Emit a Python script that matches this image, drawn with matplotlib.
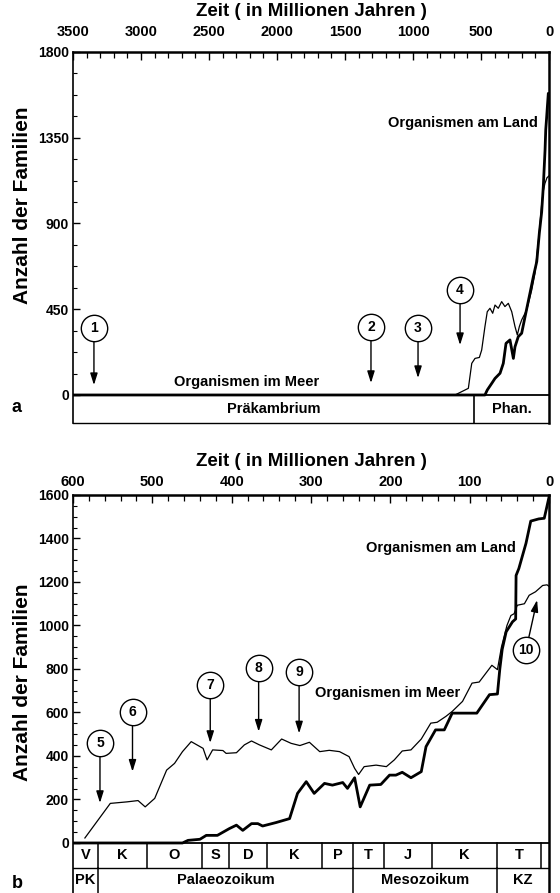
import matplotlib
matplotlib.use('Agg')
import matplotlib.pyplot as plt
from matplotlib.ticker import MultipleLocator, FixedLocator
import numpy as np

plt.rcParams['font.family'] = ['Liberation Sans', 'DejaVu Sans']
plt.rcParams['font.weight'] = 'bold'

# ---------------- data: panel a ----------------
mar_a_t = [3500, 691, 593, 568, 544, 512, 495, 471, 454, 434, 414, 397, 373, 348, 324, 299,
           274, 250, 233, 218, 201, 164, 127, 103, 90, 71, 54, 42, 30, 15, 0]
mar_a_v = [0, 0, 35, 166, 192, 197, 236, 359, 437, 455, 429, 472, 455, 490, 464, 481,
           437, 359, 315, 359, 394, 446, 551, 639, 726, 860, 1000, 1070, 1110, 1140, 1150]
land_a_t = [3500, 471, 454, 421, 397, 360, 336, 316, 287, 262, 250, 226, 201, 176, 140, 115,
            90, 71, 54, 42, 29, 24, 17, 12, 5, 0]
land_a_v = [0, 0, 26, 61, 87, 114, 166, 271, 289, 192, 253, 306, 324, 411, 534, 621,
            700, 850, 960, 1093, 1286, 1391, 1460, 1513, 1583, 1560]

# ---------------- data: panel b ----------------
mar_b_t = [585, 553, 532, 518, 509, 497, 482, 472, 462, 451, 436, 431, 424, 411, 407, 394,
           384, 375, 365, 350, 337, 325, 314, 302, 289, 277, 264, 252, 245, 240, 233, 218,
           205, 195, 185, 174, 161, 149, 141, 130, 122, 109, 97, 88, 72, 65, 60, 53, 48,
           44, 40, 31, 25, 17, 8, 2.5, 0]
mar_b_v = [23, 182, 189, 195, 166, 205, 335, 366, 420, 466, 435, 382, 428, 425, 412, 415,
           451, 469, 451, 428, 478, 458, 448, 463, 420, 426, 420, 397, 343, 315, 351, 358,
           351, 382, 423, 428, 478, 551, 555, 582, 605, 651, 735, 740, 817, 797, 900, 1000, 1046,
           1054, 1093, 1100, 1139, 1155, 1184, 1187, 1180]
land_b_t = [600, 462, 455, 440, 432, 418, 403, 394, 386, 375, 367, 361, 344, 327, 317, 306,
            296, 283, 273, 260, 254, 245, 238, 226, 212, 201, 193, 185, 174, 161, 155, 143,
            132, 122, 91, 75, 65, 62, 59, 54, 46, 42, 41.5, 38, 29, 23, 13, 6, 2.5, 0]
land_b_v = [0, 0, 12, 17, 35, 35, 66, 82, 58, 89, 89, 78, 94, 112, 228, 282,
            228, 274, 266, 278, 251, 300, 166, 266, 269, 312, 312, 325, 300, 328, 443, 520,
            520, 597, 597, 682, 685, 800, 890, 971, 1017, 1030, 1230, 1262, 1378, 1480, 1490, 1493, 1549, 1590]

# annotations: (label, circle x, circle y, tip x, tip y)
notes_a = [('1', 3346, 352, 3346, 52), ('2', 1309, 357, 1309, 63),
           ('3', 963, 352, 963, 89), ('4', 654, 551, 654, 262)]
notes_b = [('5', 566, 460, 566, 184), ('6', 525, 604, 525, 328),
           ('7', 427, 726, 427, 460), ('8', 366, 805, 366, 512),
           ('9', 315, 788, 315, 504), ('10', 29, 887, 15, 1117)]

# time scale bands
bands_a = [3500, 550, 0]
bands_a_labels = ['Präkambrium', 'Phan.']
row1_bounds = [600, 569, 507, 437, 403, 356, 286, 247, 208, 148, 66, 10, 0]
row1_labels = ['V', 'K', 'O', 'S', 'D', 'K', 'P', 'T', 'J', 'K', 'T', '']
row2_bounds = [600, 569, 247, 66, 0]
row2_labels = ['PK', 'Palaeozoikum', 'Mesozoikum', 'KZ']

W, H = 560, 893
fig = plt.figure(figsize=(W / 100, H / 100), dpi=100)


def rect(l, t, r, b):
    return [l / W, 1 - b / H, (r - l) / W, (b - t) / H]


def style(ax, xmaj, xmin, yticks, yminor, ylabels, xpad):
    ax.xaxis.tick_top()
    ax.xaxis.set_major_locator(MultipleLocator(xmaj))
    ax.xaxis.set_minor_locator(MultipleLocator(xmin))
    ax.yaxis.set_major_locator(FixedLocator(yticks))
    ax.yaxis.set_minor_locator(FixedLocator(yminor))
    ax.set_yticklabels(ylabels)
    ax.tick_params(axis='x', which='major', direction='in', length=6, width=1.0,
                   labelsize=10.5, pad=xpad)
    ax.tick_params(axis='x', which='minor', direction='in', length=4, width=0.9)
    ax.tick_params(axis='y', which='major', direction='in', length=5, width=1.0,
                   labelsize=10, pad=3)
    ax.tick_params(axis='y', which='minor', direction='in', length=3, width=0.8)
    for lab in ax.get_xticklabels() + ax.get_yticklabels():
        lab.set_fontweight('bold')
    ax.spines['top'].set_linewidth(1.8)
    ax.spines['left'].set_linewidth(1.2)
    ax.spines['right'].set_linewidth(1.8)
    ax.spines['bottom'].set_linewidth(1.0)


def circles(ax, notes):
    for lab, cx, cy, tx, ty in notes:
        ax.annotate('', xy=(tx, ty), xytext=(cx, cy),
                    arrowprops=dict(arrowstyle='-|>,head_length=0.7,head_width=0.22',
                                    color='black', lw=1.0, shrinkA=9.5, shrinkB=0),
                    zorder=4)
        ax.plot([cx], [cy], marker='o', ms=19, mfc='white', mec='black', mew=1.0,
                zorder=5, clip_on=False)
        ax.text(cx, cy, lab, ha='center', va='center', fontsize=10,
                fontweight='bold', zorder=6)


# ---------------- panel a ----------------
axA = fig.add_axes(rect(73, 52, 549, 423))
axA.set_xlim(3500, 0)
axA.set_ylim(-147, 1800)
style(axA, 500, 100, [0, 450, 900, 1350, 1800], list(np.arange(0, 1801, 112.5)),
      ['0', '450', '900', '1350', '1800'], xpad=9)
axA.plot(mar_a_t, mar_a_v, color='black', lw=0.9, zorder=3)
axA.plot(land_a_t, land_a_v, color='black', lw=2.0, zorder=3)
axA.axhline(0, color='black', lw=1.3, zorder=2)
for b in bands_a[1:-1]:
    axA.plot([b, b], [-147, 0], color='black', lw=1.2)
for i, lab in enumerate(bands_a_labels):
    axA.text((bands_a[i] + bands_a[i + 1]) / 2, -73, lab, ha='center', va='center',
             fontsize=10.5, fontweight='bold')
circles(axA, notes_a)
axA.text(81, 1427, 'Organismen am Land', ha='right', va='center', fontsize=10.5,
         fontweight='bold')
axA.text(2221, 70, 'Organismen im Meer', ha='center', va='center', fontsize=10.5,
         fontweight='bold')

# ---------------- panel b ----------------
axB = fig.add_axes(rect(73, 495, 549, 893))
axB.set_xlim(600, 0)
axB.set_ylim(-230, 1600)
style(axB, 100, 20, list(range(0, 1601, 200)), list(range(0, 1601, 50)),
      [str(v) for v in range(0, 1601, 200)], xpad=4)
axB.spines['bottom'].set_visible(False)
axB.plot(mar_b_t, mar_b_v, color='black', lw=0.9, zorder=3)
axB.plot(land_b_t, land_b_v, color='black', lw=2.0, zorder=3)
axB.axhline(0, color='black', lw=1.3, zorder=2)
axB.axhline(-115, color='black', lw=1.0, zorder=2)
for b in row1_bounds[1:-1]:
    axB.plot([b, b], [-115, 0], color='black', lw=1.1)
for b in row2_bounds[1:-1]:
    axB.plot([b, b], [-230, -115], color='black', lw=1.1)
for i, lab in enumerate(row1_labels):
    axB.text((row1_bounds[i] + row1_bounds[i + 1]) / 2, -55, lab, ha='center',
             va='center', fontsize=10.5, fontweight='bold')
for i, lab in enumerate(row2_labels):
    axB.text((row2_bounds[i] + row2_bounds[i + 1]) / 2, -172, lab, ha='center',
             va='center', fontsize=10.5, fontweight='bold')
circles(axB, notes_b)
axB.text(41.5, 1356, 'Organismen am Land', ha='right', va='center', fontsize=10.5,
         fontweight='bold')
axB.text(204, 691, 'Organismen im Meer', ha='center', va='center', fontsize=10.5,
         fontweight='bold')

# titles / labels
fig.text(311 / W, 1 - 12 / H, 'Zeit ( in Millionen Jahren )', ha='center', va='center',
         fontsize=13.5, fontweight='bold')
fig.text(311 / W, 1 - 461 / H, 'Zeit ( in Millionen Jahren )', ha='center', va='center',
         fontsize=13.5, fontweight='bold')
fig.text(23 / W, 1 - 205 / H, 'Anzahl der Familien', rotation=90, ha='center',
         va='center', fontsize=15, fontweight='bold')
fig.text(23 / W, 1 - 682 / H, 'Anzahl der Familien', rotation=90, ha='center',
         va='center', fontsize=15, fontweight='bold')
fig.text(17 / W, 1 - 407 / H, 'a', ha='center', va='center', fontsize=13,
         fontweight='bold')
fig.text(17 / W, 1 - 884 / H, 'b', ha='center', va='center', fontsize=13,
         fontweight='bold')

fig.savefig('out.png', dpi=100, facecolor='white')
